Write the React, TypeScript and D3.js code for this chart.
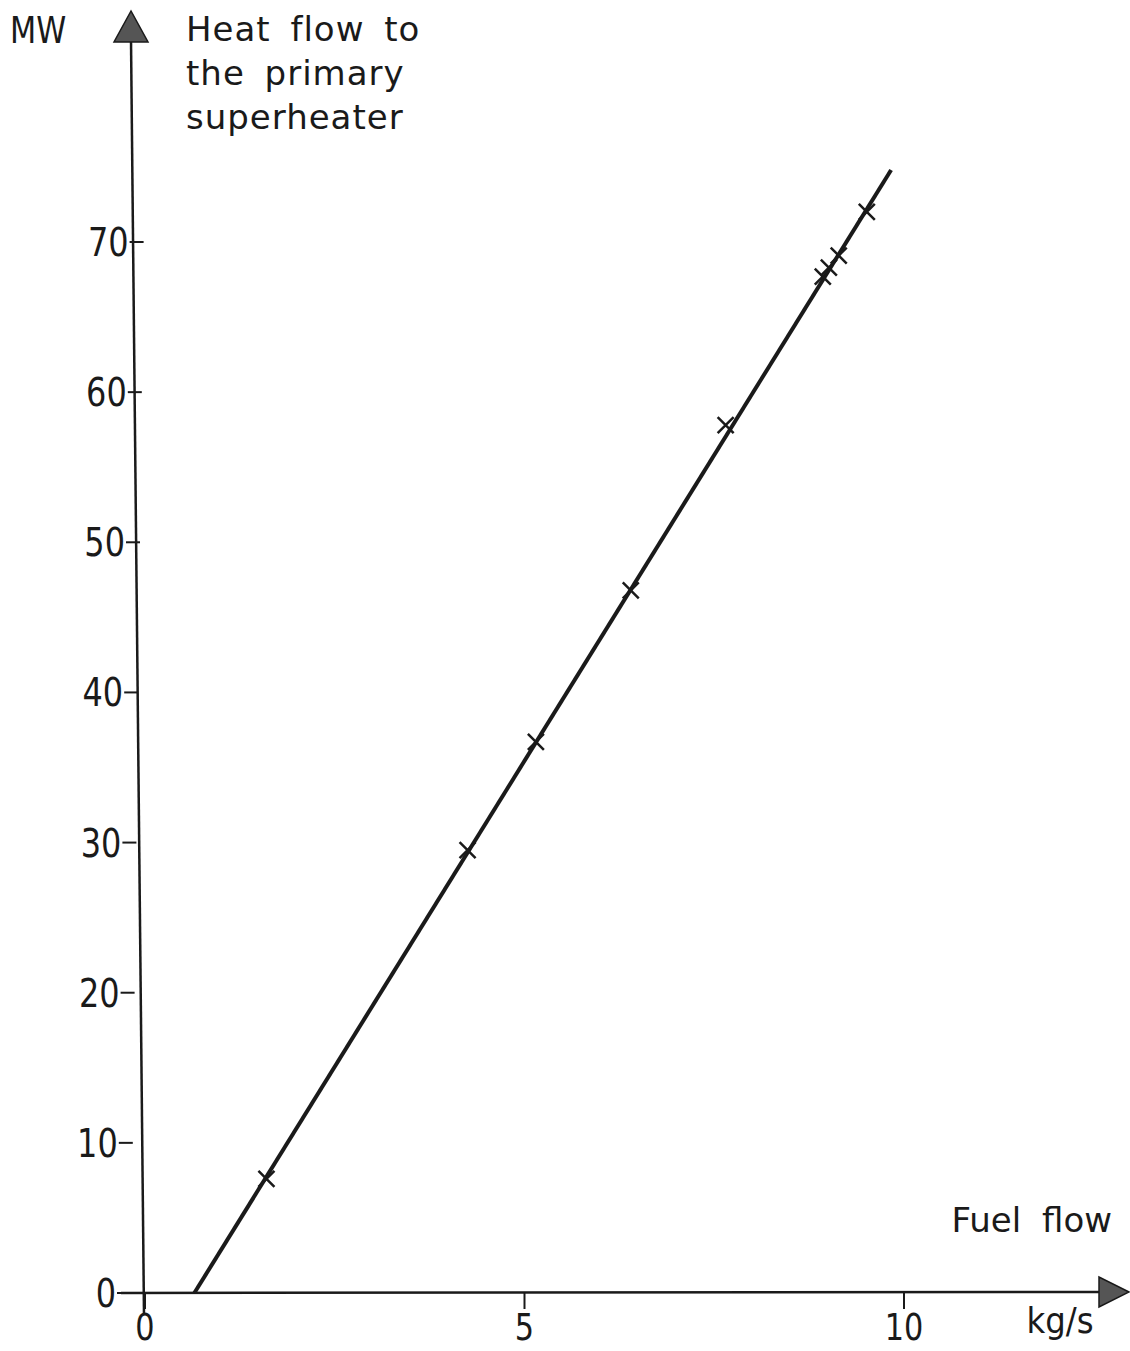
import { useRef, useEffect } from 'react'
import * as d3 from 'd3'

// measured points (fuel flow kg/s, heat flow MW)
const fuelFlow = [1.6, 4.25, 5.15, 6.4, 7.65, 8.93, 9.01, 9.14, 9.51]
const heatFlow = [7.6, 29.5, 36.7, 46.8, 57.8, 67.7, 68.3, 69.1, 72.0]
// fitted straight line
const fitX = [0.65, 9.83]
const fitY = [0, 74.8]
const xTicks = [0, 5, 10]
const yTicks = [0, 10, 20, 30, 40, 50, 60, 70]
const titleLines = ['Heat flow to', 'the primary', 'superheater']

export default function App() {
  const svgRef = useRef<SVGSVGElement>(null)

  useEffect(() => {
    if (!svgRef.current) return
    const w = 1130
    const h = 1351
    const svg = d3.select(svgRef.current)
    svg.selectAll('*').remove()
    svg.attr('width', w).attr('height', h)

    const x = d3.scaleLinear().domain([0, 10]).range([145, 904])
    const y = d3.scaleLinear().domain([0, 70]).range([1293, 242])
    const ink = '#1a1a1a'
    const font = 'DejaVu Sans, sans-serif'
    // narrow the tick digits a little, like the lettering stencil
    const squeeze = 0.82

    svg.append('rect').attr('width', w).attr('height', h).attr('fill', '#fff')

    // y axis with arrow
    svg.append('line')
      .attr('x1', x(0) - 14).attr('x2', x(0) - 1)
      .attr('y1', 40).attr('y2', y(0) + 22)
      .attr('stroke', ink).attr('stroke-width', 2.5)
    svg.append('path')
      .attr('d', `M${x(0) - 14},11 L${x(0) - 31},42 L${x(0) + 3},42 Z`)
      .attr('fill', '#555').attr('stroke', ink).attr('stroke-width', 1.5)

    // x axis with arrow
    svg.append('line')
      .attr('x1', x(0) - 24).attr('x2', 1100)
      .attr('y1', y(0)).attr('y2', y(0) - 1)
      .attr('stroke', ink).attr('stroke-width', 2.5)
    svg.append('path')
      .attr('d', `M1129,${y(0) - 1} L1099,${y(0) - 16} L1099,${y(0) + 14} Z`)
      .attr('fill', '#555').attr('stroke', ink).attr('stroke-width', 1.5)

    // y ticks
    const tickX = (d: number) => x(0) - 14 + d * 0.18
    const yt = svg.append('g')
    yt.selectAll('line').data(yTicks).join('line')
      .attr('x1', d => tickX(d) - 14).attr('x2', d => tickX(d))
      .attr('y1', d => y(d)).attr('y2', d => y(d))
      .attr('stroke', ink).attr('stroke-width', 2)
    yt.selectAll('text').data(yTicks).join('text')
      .attr('transform', d => `translate(${tickX(d) - 15},${y(d) + 14}) scale(${squeeze},1)`)
      .attr('text-anchor', 'end')
      .attr('font-family', font).attr('font-size', 39)
      .attr('fill', ink)
      .text(d => d)

    // x ticks
    const xt = svg.append('g')
    xt.selectAll('line').data(xTicks).join('line')
      .attr('x1', d => x(d)).attr('x2', d => x(d))
      .attr('y1', y(0)).attr('y2', y(0) + 16)
      .attr('stroke', ink).attr('stroke-width', 2)
    xt.selectAll('text').data(xTicks).join('text')
      .attr('transform', d => `translate(${x(d)},${y(0) + 47}) scale(${squeeze},1)`)
      .attr('text-anchor', 'middle')
      .attr('font-family', font).attr('font-size', 37)
      .attr('fill', ink)
      .text(d => d)

    // axis labels
    svg.append('text')
      .attr('transform', `translate(10,43) scale(${squeeze},1)`)
      .attr('font-family', font).attr('font-size', 37)
      .attr('fill', ink).text('MW')
    svg.append('g').selectAll('text').data(titleLines).join('text')
      .attr('x', 186).attr('y', (_, i) => 41 + i * 44)
      .attr('font-family', font).attr('font-size', 34)
      .attr('letter-spacing', 1).attr('word-spacing', 8)
      .attr('fill', ink).text(d => d)
    svg.append('text')
      .attr('x', 1112).attr('y', 1232)
      .attr('text-anchor', 'end')
      .attr('font-family', font).attr('font-size', 34)
      .attr('word-spacing', 10)
      .attr('fill', ink).text('Fuel flow')
    svg.append('text')
      .attr('transform', `translate(1060,${y(0) + 40}) scale(0.9,1)`)
      .attr('text-anchor', 'middle')
      .attr('font-family', font).attr('font-size', 36)
      .attr('fill', ink).text('kg/s')

    // fitted line
    const fit = fitX.map((v, i) => [v, fitY[i]] as [number, number])
    svg.append('path')
      .datum(fit)
      .attr('d', d3.line<[number, number]>().x(d => x(d[0])).y(d => y(d[1])))
      .attr('fill', 'none').attr('stroke', ink).attr('stroke-width', 4)

    // cross markers
    const pts = fuelFlow.map((v, i) => [v, heatFlow[i]] as [number, number])
    const s = 8
    svg.append('g').selectAll('path').data(pts).join('path')
      .attr('d', d => {
        const px = x(d[0]), py = y(d[1])
        return `M${px - s},${py - s}L${px + s},${py + s}M${px - s},${py + s}L${px + s},${py - s}`
      })
      .attr('stroke', ink).attr('stroke-width', 2.5)
  }, [])

  return <svg ref={svgRef} style={{ display: 'block', position: 'absolute', left: 0, top: 0 }} />
}
